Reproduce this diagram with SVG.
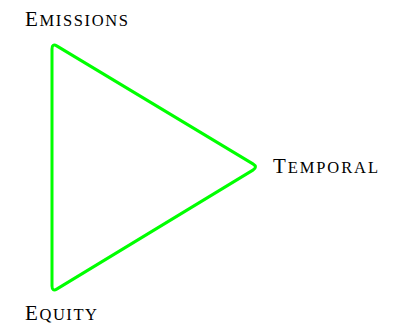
<svg xmlns="http://www.w3.org/2000/svg" width="397" height="327" viewBox="0 0 397 327">
<style>
.lbl{font-family:"Liberation Serif","DejaVu Serif",serif;font-size:21px;fill:#000}
.sc{font-size:16.5px}
.edge{fill:none;stroke:#00ff00;stroke-width:3;stroke-linejoin:round}
</style>
<rect width="397" height="327" fill="#fff"/>
<g id="connectors">
<path class="edge" d="M52,49 Q52,43 57.1,46.1 L252.9,163.9 Q258,167 252.9,170.1 L57.1,288.9 Q52,292 52,286 Z"/>
</g>
<g id="emissions"><text class="lbl" x="25" y="25.5" textLength="103">E<tspan class="sc">MISSIONS</tspan></text></g>
<g id="temporal"><text class="lbl" x="273" y="172.5" textLength="105">T<tspan class="sc">EMPORAL</tspan></text></g>
<g id="equity"><text class="lbl" x="25" y="320" textLength="72">E<tspan class="sc">QUITY</tspan></text></g>
</svg>
